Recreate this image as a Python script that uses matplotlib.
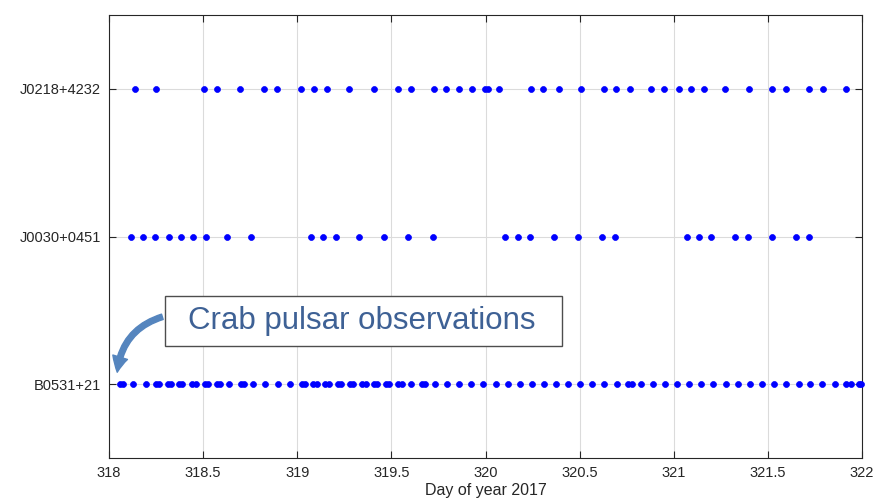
import matplotlib
matplotlib.use("Agg")
import matplotlib.pyplot as plt
from matplotlib.patches import FancyArrowPatch, Rectangle

plt.rcParams['font.family'] = ['Liberation Sans', 'DejaVu Sans']

sources = ["B0531+21", "J0030+0451", "J0218+4232"]

# observation times as day-of-year offsets from 318
j0218_days = [0.138, 0.251, 0.505, 0.572, 0.696, 0.824, 0.893, 1.020, 1.088, 1.157,
              1.275, 1.407, 1.537, 1.606, 1.725, 1.792, 1.858, 1.927, 1.995, 2.014,
              2.071, 2.241, 2.304, 2.391, 2.506, 2.629, 2.694, 2.767, 2.881, 2.949,
              3.027, 3.091, 3.160, 3.272, 3.399, 3.524, 3.596, 3.719, 3.794, 3.914]

j0030_days = [0.115, 0.179, 0.244, 0.319, 0.381, 0.446, 0.514, 0.625, 0.756,
              1.073, 1.139, 1.206, 1.328, 1.460, 1.590, 1.720,
              2.106, 2.172, 2.235, 2.363, 2.492, 2.620, 2.687,
              3.070, 3.135, 3.197, 3.326, 3.394, 3.521, 3.647, 3.716]

b0531_days = [0.058, 0.076, 0.128, 0.195, 0.250, 0.268, 0.311, 0.329, 0.370, 0.388,
              0.443, 0.461, 0.510, 0.528, 0.572, 0.590, 0.639, 0.701, 0.719, 0.767,
              0.830, 0.896, 0.962, 1.023, 1.041, 1.086, 1.104, 1.149, 1.167, 1.215,
              1.233, 1.278, 1.296, 1.346, 1.364, 1.408, 1.426, 1.472, 1.490, 1.537,
              1.555, 1.605, 1.661, 1.679, 1.732, 1.798, 1.861, 1.925, 1.989, 2.055,
              2.118, 2.182, 2.246, 2.311, 2.375, 2.439, 2.504, 2.568, 2.632, 2.698,
              2.756, 2.779, 2.827, 2.891, 2.954, 3.018, 3.083, 3.147, 3.211, 3.277,
              3.341, 3.406, 3.470, 3.533, 3.597, 3.663, 3.726, 3.790, 3.856, 3.916,
              3.941, 3.983, 3.997]

base_day = 318
series = [b0531_days, j0030_days, j0218_days]
x_tick_labels = ["318", "318.5", "319", "319.5", "320", "320.5", "321", "321.5", "322"]

W, H = 877, 499
fig = plt.figure(figsize=(W / 100, H / 100), dpi=100)
ax = fig.add_axes([109/W, 1-458/H, (862-109)/W, (458-15)/H])

for i, days in enumerate(series):
    xs = [base_day + d for d in days]
    ax.plot(xs, [i + 1] * len(xs), linestyle='none', marker='o', markersize=4.3,
            markerfacecolor=(0, 0, 1), markeredgecolor=(0, 0, 1), markeredgewidth=0.5,
            clip_on=False, zorder=3)

ax.set_xlim(318, 322)
ax.set_ylim(0.5, 3.5)
ax.set_xticks([318 + 0.5 * k for k in range(len(x_tick_labels))])
ax.set_xticklabels(x_tick_labels)
ax.set_yticks([1, 2, 3])
ax.set_yticklabels(sources)
ax.grid(True, color=(0.86, 0.86, 0.86), linewidth=0.8)
ax.set_axisbelow(True)
ax.tick_params(direction='in', length=5, width=0.8, colors=(0.15, 0.15, 0.15),
               labelsize=10.5, top=True, right=True, pad=6)
for s in ax.spines.values():
    s.set_color((0.15, 0.15, 0.15))
    s.set_linewidth(0.8)
ax.set_xlabel("Day of year 2017", fontsize=11.5, color=(0.15, 0.15, 0.15), labelpad=2)

# annotation box
box = Rectangle((165/W, 1-346/H), (562-165)/W, (346-296)/H, transform=fig.transFigure,
                facecolor='white', edgecolor=(0.3, 0.3, 0.3), linewidth=1.0, zorder=5)
fig.patches.append(box)
fig.text(362/W, 1-321/H, "Crab pulsar observations", fontsize=22.5,
         color='#3E6195', ha='center', va='center', zorder=6)

arrow = FancyArrowPatch((165/W, 1-316/H), (117/W, 1-375/H),
                        transform=fig.transFigure,
                        connectionstyle="arc3,rad=0.35",
                        arrowstyle="simple,head_width=11,head_length=11,tail_width=4",
                        color='#5585BE', zorder=6)
fig.patches.append(arrow)

fig.savefig("out.png", dpi=100)
